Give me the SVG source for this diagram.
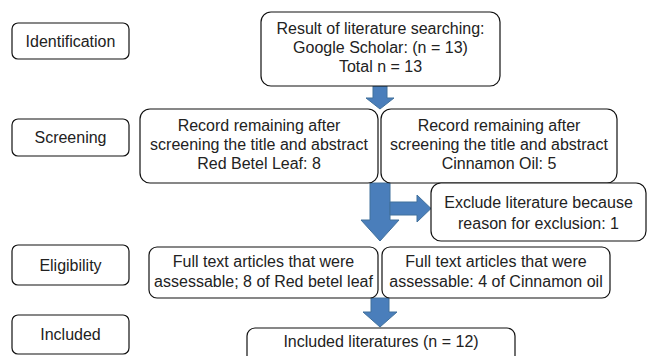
<svg xmlns="http://www.w3.org/2000/svg" width="650" height="356" viewBox="0 0 650 356">
<style>
.box{fill:#fff;stroke:#111;stroke-width:1.2}
.t{font-family:"Liberation Sans",Arial,sans-serif;font-size:16px;fill:#222;text-anchor:middle}
.arr{fill:#4a7ebb;stroke:#41719c;stroke-width:1}
</style>
<rect width="650" height="356" fill="#fff"/>
<g id="connectors">
<polygon class="arr" points="373,86 387,86 387,98 394,98 380,109 366,98 373,98"/>
<polygon class="arr" points="370,183 390,183 390,220 399,220 380,241 361,220 370,220"/>
<polygon class="arr" points="390,202 417,202 417,195 431,208.5 417,222 417,215 390,215"/>
<polygon class="arr" points="371,298 389,298 389,312 397,312 380,327 363,312 371,312"/>
</g>
<g id="lbl-identification">
<rect class="box" x="12" y="23" width="117" height="36" rx="6"/>
<text class="t" x="70.5" y="46.5">Identification</text>
</g>
<g id="lbl-screening">
<rect class="box" x="12" y="119" width="117" height="37" rx="6"/>
<text class="t" x="70.5" y="143">Screening</text>
</g>
<g id="lbl-eligibility">
<rect class="box" x="12" y="245" width="117" height="40" rx="6"/>
<text class="t" x="70.5" y="271">Eligibility</text>
</g>
<g id="lbl-included">
<rect class="box" x="12" y="315" width="117" height="39" rx="6"/>
<text class="t" x="70.5" y="340">Included</text>
</g>
<g id="search">
<rect class="box" x="261" y="12" width="239" height="74" rx="10"/>
<text class="t" x="380.5" y="34">Result of literature searching:</text>
<text class="t" x="380.5" y="53">Google Scholar: (n = 13)</text>
<text class="t" x="380.5" y="72">Total n = 13</text>
</g>
<g id="screen-betel">
<rect class="box" x="140" y="109" width="238" height="74" rx="10"/>
<text class="t" x="259" y="131">Record remaining after</text>
<text class="t" x="259" y="150">screening the title and abstract</text>
<text class="t" x="259" y="169">Red Betel Leaf: 8</text>
</g>
<g id="screen-cinnamon">
<rect class="box" x="381" y="109" width="236" height="74" rx="10"/>
<text class="t" x="499" y="131">Record remaining after</text>
<text class="t" x="499" y="150">screening the title and abstract</text>
<text class="t" x="499" y="169">Cinnamon Oil: 5</text>
</g>
<g id="exclude">
<rect class="box" x="431" y="183" width="215" height="58" rx="10"/>
<text class="t" x="538.5" y="207.5">Exclude literature because</text>
<text class="t" x="538.5" y="228.5">reason for exclusion: 1</text>
</g>
<g id="full-betel">
<rect class="box" x="149" y="247" width="229" height="51" rx="8"/>
<text class="t" x="263.5" y="267">Full text articles that were</text>
<text class="t" x="263.5" y="287">assessable; 8 of Red betel leaf</text>
</g>
<g id="full-cinnamon">
<rect class="box" x="382" y="247" width="228" height="51" rx="8"/>
<text class="t" x="496" y="267">Full text articles that were</text>
<text class="t" x="496" y="287">assessable: 4 of Cinnamon oil</text>
</g>
<g id="included">
<rect class="box" x="247" y="328" width="268" height="40" rx="8"/>
<text class="t" x="381" y="347">Included literatures (n = 12)</text>
</g>
</svg>
